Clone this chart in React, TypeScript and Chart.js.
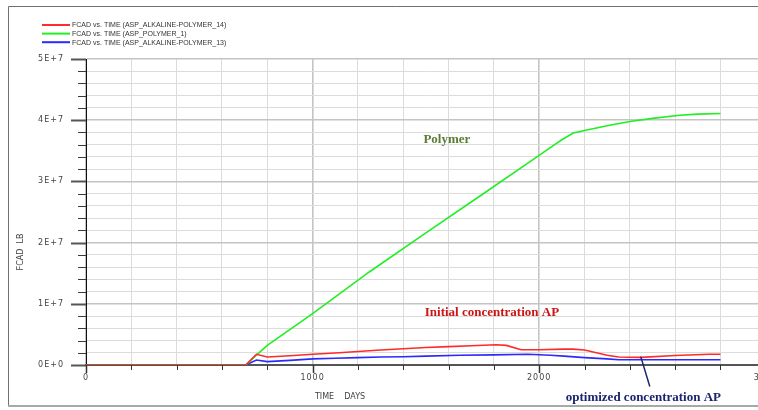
import React, { useEffect, useRef } from "react";
import { Chart, registerables } from "chart.js";

Chart.register(...registerables);

// ---- data ----
const seriesLabels = [
  "FCAD vs. TIME (ASP_ALKALINE-POLYMER_14)",
  "FCAD vs. TIME (ASP_POLYMER_1)",
  "FCAD vs. TIME (ASP_ALKALINE-POLYMER_13)",
];
const seriesColors = ["#ff2a2a", "#22ee22", "#2a2aff"];

const redDays = [0, 705, 752, 800, 900, 1000, 1100, 1200, 1300, 1400, 1500, 1600, 1700, 1810, 1855, 1920, 2000, 2105, 2150, 2200, 2300, 2350, 2450, 2600, 2750, 2800];
const redFcad = [0, 0, 1.75e6, 1.3e6, 1.5e6, 1.75e6, 1.95e6, 2.2e6, 2.45e6, 2.65e6, 2.85e6, 3.0e6, 3.15e6, 3.3e6, 3.2e6, 2.5e6, 2.5e6, 2.6e6, 2.6e6, 2.45e6, 1.6e6, 1.3e6, 1.25e6, 1.55e6, 1.75e6, 1.75e6];

const greenDays = [0, 705, 752, 800, 1000, 1250, 1500, 1750, 1990, 2060, 2100, 2150, 2210, 2300, 2400, 2500, 2620, 2700, 2800];
const greenFcad = [0, 0, 1.6e6, 3.2e6, 8.4e6, 15.2e6, 21.6e6, 27.9e6, 34.0e6, 35.8e6, 36.8e6, 37.9e6, 38.4e6, 39.1e6, 39.8e6, 40.3e6, 40.8e6, 41.0e6, 41.1e6];

const blueDays = [0, 705, 752, 800, 900, 1000, 1100, 1200, 1300, 1400, 1500, 1650, 1800, 1950, 2050, 2110, 2200, 2300, 2350, 2800];
const blueFcad = [0, 0, 0.82e6, 0.55e6, 0.75e6, 1.0e6, 1.1e6, 1.2e6, 1.3e6, 1.36e6, 1.45e6, 1.6e6, 1.65e6, 1.75e6, 1.6e6, 1.45e6, 1.2e6, 1.0e6, 0.87e6, 0.87e6];

const yTickLabels = ["0E+0", "1E+7", "2E+7", "3E+7", "4E+7", "5E+7"];
const xTickLabels = ["0", "1000", "2000", "3000"];
const xTitle = "TIME    DAYS";
const yTitle = "FCAD  LB";

const annotationTexts = ["Polymer", "Initial concentration AP", "optimized concentration AP"];
const annotationColors = ["#5a7d32", "#cc1414", "#1a2570"];
const annotationDays = [1489, 1495, 2117];
const annotationFcad = [36.9e6, 8.55e6, -5.29e6];
const arrowDays = [2448, 2488];
const arrowFcad = [1.37e6, -3.52e6];

const toPoints = (xs: number[], ys: number[]) => xs.map((x, i) => ({ x, y: ys[i] }));

const CW = 784;
const CH = 410;

const framePlugin = {
  id: "frame",
  beforeDraw(chart: any) {
    const ctx = chart.ctx;
    ctx.save();
    ctx.fillStyle = "#ffffff";
    ctx.fillRect(0, 0, chart.width, chart.height);
    ctx.strokeStyle = "#707070";
    ctx.lineWidth = 1;
    ctx.beginPath();
    ctx.moveTo(8.5, 406);
    ctx.lineTo(8.5, 6.5);
    ctx.lineTo(chart.width, 6.5);
    ctx.stroke();
    ctx.strokeStyle = "#a8a8a8";
    ctx.lineWidth = 2;
    ctx.beginPath();
    ctx.moveTo(8, 406);
    ctx.lineTo(chart.width, 406);
    ctx.stroke();
    ctx.restore();
    // tick labels of the original are slightly letter-spaced
    ctx.letterSpacing = "1px";
  },
};

const decorPlugin = {
  id: "decor",
  afterDatasetsDraw(chart: any) {
    const ctx = chart.ctx;
    const xs = chart.scales.x;
    const ys = chart.scales.y;
    const area = chart.chartArea;
    ctx.save();
    ctx.letterSpacing = "0px";
    // y ticks
    for (let v = 0; v <= 5e7 + 1; v += 2e6) {
      const py = Math.round(ys.getPixelForValue(v)) + 0.5;
      const major = v % 1e7 === 0;
      ctx.strokeStyle = major ? "#555555" : "#3a3a3a";
      ctx.lineWidth = major ? 2 : 1;
      ctx.beginPath();
      ctx.moveTo(major ? area.left - 15 : area.left - 8, py);
      ctx.lineTo(area.left, py);
      ctx.stroke();
    }
    // x ticks
    for (let d = 0; d <= 3000; d += 200) {
      const px = Math.round(xs.getPixelForValue(d)) + 0.5;
      const major = d % 1000 === 0;
      ctx.strokeStyle = "#333333";
      ctx.lineWidth = major ? 1.5 : 1;
      ctx.beginPath();
      ctx.moveTo(px, area.bottom);
      ctx.lineTo(px, area.bottom + (major ? 8 : 5));
      ctx.stroke();
    }
    // axis titles
    ctx.fillStyle = "#444444";
    ctx.font = "8px 'DejaVu Sans'";
    ctx.textAlign = "center";
    ctx.textBaseline = "middle";
    ctx.fillText(xTitle, 340, 396.5);
    ctx.save();
    ctx.translate(21, 252);
    ctx.rotate(-Math.PI / 2);
    ctx.fillText(yTitle, 0, 0);
    ctx.restore();
    // legend
    chart.data.datasets.forEach((ds: any, i: number) => {
      const y = 25 + 8.6 * i;
      ctx.strokeStyle = ds.borderColor;
      ctx.lineWidth = 2;
      ctx.beginPath();
      ctx.moveTo(42, y);
      ctx.lineTo(70, y);
      ctx.stroke();
      ctx.fillStyle = "#333333";
      ctx.font = "7px 'Liberation Sans'";
      ctx.textAlign = "left";
      ctx.textBaseline = "middle";
      ctx.fillText(ds.label, 72, y + 0.5);
    });
    // annotations
    annotationTexts.forEach((t, i) => {
      ctx.fillStyle = annotationColors[i];
      ctx.font = "bold 13px 'Liberation Serif'";
      ctx.textAlign = "left";
      ctx.textBaseline = "middle";
      ctx.fillText(t, xs.getPixelForValue(annotationDays[i]), ys.getPixelForValue(annotationFcad[i]));
    });
    ctx.strokeStyle = annotationColors[2];
    ctx.lineWidth = 1.5;
    ctx.beginPath();
    ctx.moveTo(xs.getPixelForValue(arrowDays[0]), ys.getPixelForValue(arrowFcad[0]));
    ctx.lineTo(xs.getPixelForValue(arrowDays[1]), ys.getPixelForValue(arrowFcad[1]));
    ctx.stroke();
    ctx.restore();
  },
};

export default function App() {
  const ref = useRef<HTMLCanvasElement | null>(null);

  useEffect(() => {
    if (!ref.current) return;
    const chart = new Chart(ref.current, {
      type: "line",
      data: {
        datasets: [
          { label: seriesLabels[0], data: toPoints(redDays, redFcad), borderColor: seriesColors[0] },
          { label: seriesLabels[1], data: toPoints(greenDays, greenFcad), borderColor: seriesColors[1] },
          { label: seriesLabels[2], data: toPoints(blueDays, blueFcad), borderColor: seriesColors[2] },
        ].map((d) => ({ ...d, borderWidth: 1.6, pointRadius: 0, tension: 0, fill: false })),
      },
      options: {
        animation: false,
        responsive: false,
        devicePixelRatio: 1,
        layout: { padding: { left: 0, right: 10, top: 59, bottom: 0 }, autoPadding: false },
        plugins: { legend: { display: false }, tooltip: { enabled: false }, title: { display: false } },
        scales: {
          x: {
            type: "linear",
            min: 0,
            max: 3000,
            afterFit: (s: any) => {
              s.height = 45;
            },
            border: { display: true, color: "#555555", width: 2 },
            grid: {
              drawTicks: false,
              color: (c: any) => (c.tick && c.tick.value % 1000 === 0 ? "#c4c4c4" : "#dcdcdc"),
              lineWidth: (c: any) => (c.tick && c.tick.value % 1000 === 0 ? 1.6 : 1),
            },
            ticks: {
              stepSize: 200,
              autoSkip: false,
              maxRotation: 0,
              padding: 8,
              color: "#444444",
              font: { family: "'DejaVu Sans'", size: 8 },
              callback: (v: any) => (Number(v) % 1000 === 0 ? xTickLabels[Number(v) / 1000] : ""),
            },
          },
          y: {
            type: "linear",
            min: 0,
            max: 5e7,
            afterFit: (s: any) => {
              s.width = 86;
            },
            border: { display: true, color: "#111111", width: 1 },
            grid: {
              drawTicks: false,
              color: (c: any) => (c.tick && c.tick.value % 1e7 === 0 ? "#c4c4c4" : "#dcdcdc"),
              lineWidth: (c: any) => (c.tick && c.tick.value % 1e7 === 0 ? 1.6 : 1),
            },
            ticks: {
              stepSize: 2e6,
              autoSkip: false,
              padding: 22,
              color: "#444444",
              font: { family: "'DejaVu Sans'", size: 8 },
              callback: (v: any) => (Number(v) % 1e7 === 0 ? yTickLabels[Math.round(Number(v) / 1e7)] : ""),
            },
          },
        },
      },
      plugins: [framePlugin, decorPlugin],
    });
    return () => chart.destroy();
  }, []);

  return (
    <div style={{ position: "absolute", left: 0, top: 0, width: 758, height: 410, overflow: "hidden" }}>
      <canvas ref={ref} width={CW} height={CH} style={{ width: CW, height: CH, display: "block" }} />
    </div>
  );
}
